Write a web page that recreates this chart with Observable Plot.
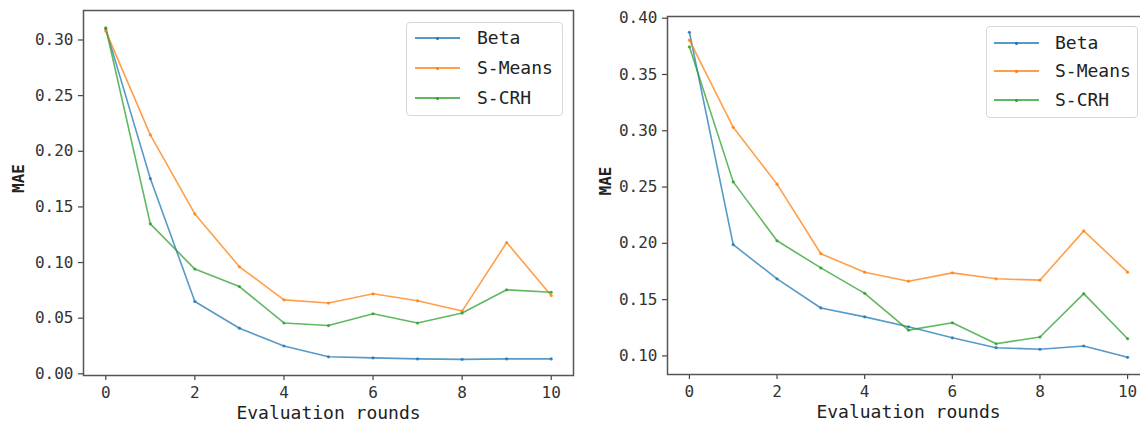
<!DOCTYPE html>
<html><head><meta charset="utf-8">
<script src="https://cdn.jsdelivr.net/npm/d3@7"></script>
<script src="https://cdn.jsdelivr.net/npm/@observablehq/plot@0.6"></script>
<style>
html,body{margin:0;padding:0;background:#fff;overflow:hidden;width:1140px;height:423px;}
#wrap{position:relative;width:1140px;height:423px;overflow:hidden;}
.panel{position:absolute;top:0;}
.panel svg{max-width:none !important;}
.legend{position:absolute;box-sizing:border-box;border:1px solid #d8d8d8;border-radius:4px;background:rgba(255,255,255,0.85);font-family:"DejaVu Sans Mono",monospace;font-size:18px;color:#222;}
.legend .row{position:absolute;left:0;height:0;}
.legend .sw{position:absolute;height:2px;width:45px;}
.legend .dotm{position:absolute;width:3px;height:3px;border-radius:50%;}
.legend .lab{position:absolute;white-space:nowrap;line-height:18px;transform:translateY(-50%);}
</style></head>
<body><div id="wrap"></div>
<script>
const rounds = [0,1,2,3,4,5,6,7,8,9,10];
const seriesNames = ["Beta","S-Means","S-CRH"];
const seriesColors = ["#1f77b4","#ff7f0e","#2ca02c"];
const xTicks = [0,2,4,6,8,10];
const xLabel = "Evaluation rounds";
const yLabel = "MAE";

// Left panel values
const leftBeta   = [0.310,0.1755,0.065,0.041,0.025,0.0153,0.0143,0.0134,0.0130,0.0134,0.0134];
const leftSMeans = [0.308,0.2147,0.1437,0.0962,0.0665,0.0636,0.0719,0.0656,0.0564,0.1180,0.0704];
const leftSCRH   = [0.311,0.1348,0.0941,0.0784,0.0457,0.0434,0.0540,0.0457,0.0546,0.0755,0.0733];
const leftYTicks = [0.00,0.05,0.10,0.15,0.20,0.25,0.30];

// Right panel values
const rightBeta   = [0.3875,0.1988,0.1685,0.1426,0.1347,0.1259,0.1161,0.1073,0.1059,0.1088,0.0988];
const rightSMeans = [0.3805,0.3031,0.2526,0.1908,0.1744,0.1664,0.1738,0.1685,0.1673,0.2111,0.1744];
const rightSCRH   = [0.3746,0.2546,0.2023,0.1782,0.1556,0.1229,0.1294,0.1108,0.1168,0.1553,0.1153];
const rightYTicks = [0.10,0.15,0.20,0.25,0.30,0.35,0.40];

function table(arrs){
  const rows=[];
  arrs.forEach((a,si)=>a.forEach((v,i)=>rows.push({round:rounds[i],value:v,series:seriesNames[si]})));
  return rows;
}

const FONT = "DejaVu Sans Mono";

function panel(opts){
  const data = table(opts.values);
  const p = Plot.plot({
    width: opts.width, height: 423,
    marginLeft: opts.ml, marginRight: opts.mr, marginTop: opts.mt, marginBottom: 423-opts.fb,
    style:{fontFamily:FONT, background:"transparent", overflow:"hidden", maxWidth:"none"},
    x:{domain:[-0.5,10.5]},
    y:{domain:opts.ydomain},
    color:{domain:seriesNames, range:seriesColors},
    marks:[
      Plot.axisX({ticks:xTicks, tickSize:5, tickPadding:6, fontSize:16, fill:"#333", stroke:"#444", strokeWidth:1.2, label:null}),
      Plot.axisY({ticks:opts.yticks, tickSize:5, tickPadding:5, fontSize:16, fill:"#333", stroke:"#444", strokeWidth:1.2, tickFormat:d3.format(".2f"), label:null}),
      Plot.line(data,{x:"round", y:"value", z:"series", stroke:"series", strokeWidth:1.6, strokeOpacity:0.75}),
      Plot.dot(data,{x:"round", y:"value", fill:"series", r:1.6, fillOpacity:0.8}),
      Plot.frame({stroke:"#555", strokeWidth:1.5}),
      Plot.text([xLabel],{frameAnchor:"bottom", dy:opts.xlabDy, fontSize:18, fill:"#222", lineAnchor:"bottom"}),
      Plot.text([yLabel],{frameAnchor:"left", rotate:-90, dx:-opts.ylabDx, fontSize:16, fontWeight:"bold", fill:"#222", lineAnchor:"middle"})
    ]
  });
  p.style.maxWidth = "none";
  const div = document.createElement("div");
  div.className="panel"; div.style.left=opts.left+"px"; div.style.width=opts.width+"px";
  div.appendChild(p);
  document.getElementById("wrap").appendChild(div);

  // legend
  const lg = document.createElement("div");
  lg.className="legend";
  const L = opts.legend;
  lg.style.left=L.x+"px"; lg.style.top=L.y+"px"; lg.style.width=L.w+"px"; lg.style.height=L.h+"px";
  seriesNames.forEach((s,i)=>{
    const row=document.createElement("div"); row.className="row"; row.style.top=(L.rows[i])+"px";
    const sw=document.createElement("div"); sw.className="sw"; sw.style.left=L.swx+"px"; sw.style.top="-1px"; sw.style.background=seriesColors[i]; sw.style.opacity=0.75;
    const dm=document.createElement("div"); dm.className="dotm"; dm.style.left=(L.swx+21)+"px"; dm.style.top="-1.5px"; dm.style.background=seriesColors[i];
    const lb=document.createElement("div"); lb.className="lab"; lb.style.left=L.tx+"px"; lb.textContent=s;
    row.appendChild(sw); row.appendChild(dm); row.appendChild(lb); lg.appendChild(row);
  });
  document.getElementById("wrap").appendChild(lg);
}

panel({left:0, width:590, ml:83, mr:17, mt:10, fb:375, ydomain:[-0.0015,0.3265], yticks:leftYTicks,
  values:[leftBeta,leftSMeans,leftSCRH], xlabDy:43, ylabDx:65,
  legend:{x:406,y:22,w:157,h:94,swx:8,tx:70,rows:[15,45,75]}});
panel({left:590, width:559, ml:77, mr:0, mt:16, fb:374, ydomain:[0.0835,0.4015], yticks:rightYTicks,
  values:[rightBeta,rightSMeans,rightSCRH], xlabDy:43, ylabDx:62,
  legend:{x:986,y:26,w:152,h:92,swx:7,tx:68,rows:[16,44,73]}});
</script>
</body></html>
